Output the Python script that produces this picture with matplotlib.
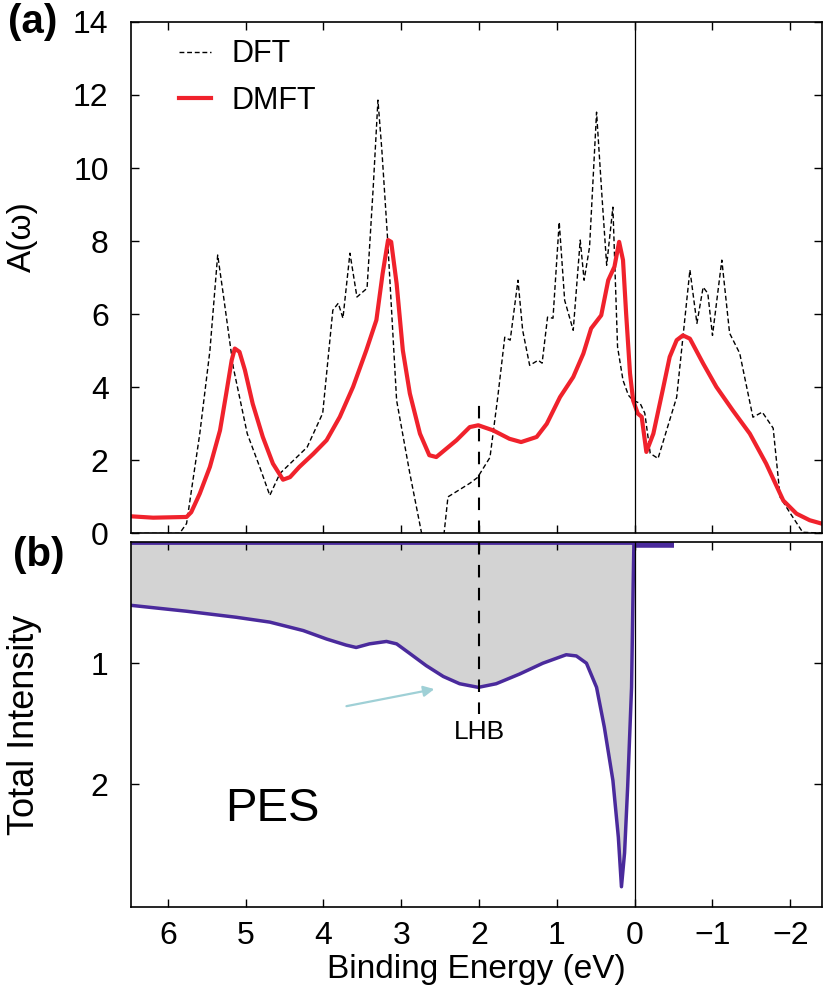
import numpy as np
import matplotlib.pyplot as plt

plt.rcParams['font.family'] = ['Liberation Sans', 'DejaVu Sans']

# DFT spectral function (black dashed), binding energy in eV
dft_x = [6.5, 5.85, 5.76, 5.59, 5.46, 5.36, 5.29, 5.16, 4.98, 4.82, 4.69, 4.56,
         4.21, 4.01, 3.88, 3.81, 3.75, 3.66, 3.57, 3.44, 3.36, 3.30, 3.25, 3.18,
         3.06, 2.89, 2.72, 2.46, 2.40, 2.12, 2.02, 1.86, 1.76, 1.67, 1.60, 1.50,
         1.44, 1.35, 1.24, 1.19, 1.12, 1.05, 0.97, 0.90, 0.79, 0.70, 0.65, 0.58,
         0.49, 0.42, 0.36, 0.28, 0.22, 0.15, 0.08, 0.02, -0.07, -0.13, -0.20,
         -0.30, -0.54, -0.71, -0.80, -0.88, -0.94, -1.00, -1.12, -1.22, -1.35,
         -1.52, -1.64, -1.78, -1.87, -2.00, -2.16, -2.5]
dft_y = [0.0, 0.0, 0.27, 2.73, 5.0, 7.62, 6.57, 4.55, 2.73, 1.82, 1.04, 1.64,
         2.36, 3.29, 6.11, 6.30, 5.89, 7.67, 6.47, 6.71, 9.5, 11.86, 10.5, 8.2,
         3.64, 1.64, -0.2, -0.2, 1.0, 1.37, 1.53, 2.08, 3.73, 5.37, 5.29, 6.93,
         5.56, 4.60, 4.74, 4.66, 5.92, 5.89, 8.52, 6.38, 5.56, 8.03, 6.93, 7.84,
         11.53, 9.21, 7.34, 8.93, 5.10, 4.19, 3.78, 3.64, 3.56, 3.29, 2.19,
         2.05, 3.73, 7.21, 5.75, 6.74, 6.57, 5.42, 7.48, 5.48, 4.93,
         3.18, 3.32, 2.88, 0.99, 0.55, 0.03, 0.0]

# DMFT spectral function (red)
dmft_x = [6.49, 6.19, 5.76, 5.70, 5.59, 5.46, 5.33, 5.25, 5.18, 5.14, 5.08, 5.01,
          4.91, 4.78, 4.65, 4.52, 4.43, 4.31, 4.13, 3.96, 3.79, 3.62, 3.45, 3.32,
          3.24, 3.17, 3.13, 3.06, 2.98, 2.89, 2.76, 2.64, 2.55, 2.42, 2.29, 2.12,
          2.01, 1.82, 1.61, 1.46, 1.26, 1.13, 0.96, 0.79, 0.66, 0.56, 0.43, 0.34,
          0.26, 0.20, 0.15, 0.11, 0.06, 0.02, -0.04, -0.09, -0.15, -0.24, -0.36,
          -0.45, -0.54, -0.62, -0.71, -0.88, -1.05, -1.26, -1.48, -1.69, -1.91,
          -2.08, -2.25, -2.40]
dmft_y = [0.47, 0.43, 0.45, 0.58, 1.09, 1.82, 2.82, 3.83, 4.74, 5.06, 4.97, 4.47,
          3.55, 2.64, 1.91, 1.47, 1.54, 1.82, 2.18, 2.55, 3.19, 4.01, 5.01, 5.84,
          7.11, 8.03, 7.98, 6.84, 5.01, 3.83, 2.73, 2.14, 2.09, 2.32, 2.55, 2.91,
          2.96, 2.82, 2.59, 2.50, 2.64, 3.00, 3.73, 4.28, 4.92, 5.61, 5.97, 6.93,
          7.30, 7.98, 7.48, 6.02, 4.38, 3.64, 3.28, 3.19, 2.23, 2.73, 3.92,
          4.83, 5.29, 5.42, 5.33, 4.65, 4.01, 3.37, 2.73, 1.91, 0.90,
          0.54, 0.36, 0.27]

# photoemission total intensity (b)
pes_x = [6.49, 5.76, 5.12, 4.69, 4.26, 3.96, 3.71, 3.58, 3.41, 3.19, 3.06, 2.89,
         2.68, 2.46, 2.25, 2.01, 1.78, 1.48, 1.18, 0.88, 0.75, 0.62, 0.49, 0.39,
         0.28, 0.21, 0.17, 0.13, 0.09, 0.04, 0.02, 0.01, 0.0]
pes_y = [0.52, 0.57, 0.62, 0.66, 0.73, 0.80, 0.85, 0.87, 0.84, 0.82, 0.84, 0.92,
         1.02, 1.11, 1.17, 1.20, 1.17, 1.09, 1.00, 0.93, 0.94, 1.00, 1.20, 1.53,
         1.97, 2.44, 2.85, 2.57, 2.02, 1.20, 0.37, 0.01, 0.0]

lhb_pos = 2.0
xmin, xmax = 6.476, -2.41
purple = '#4a2a9c'

fig = plt.figure(figsize=(8.23, 9.97), dpi=100)
ax1 = fig.add_axes([0.159, 0.465, 0.840, 0.513])
ax2 = fig.add_axes([0.159, 0.090, 0.840, 0.366])

# ---- (a) spectral functions ----
ax1.plot(dft_x, dft_y, color='black', lw=1.0, dashes=(3.5, 2), label='DFT')
ax1.plot(dmft_x, dmft_y, color='#f0222c', lw=3.0, label='DMFT',
         solid_joinstyle='round')
ax1.axvline(0, color='black', lw=0.9)
ax1.axvline(lhb_pos, ymin=0, ymax=3.7 / 14, color='black', lw=1.5, dashes=(6, 5))
ax1.set_xlim(xmin, xmax)
ax1.set_ylim(0, 14)
ax1.set_yticks(range(0, 15, 2))
ax1.set_xticks(range(-2, 7))
ax1.tick_params(labelbottom=False)
ax1.set_ylabel('A(ω)', fontsize=24)
ax1.yaxis.set_label_coords(-0.135, 0.58)
ax1.legend(loc='upper left', bbox_to_anchor=(0.03, 1.02), frameon=False,
           fontsize=22, handlelength=1.05, handletextpad=0.65, labelspacing=0.55)

# ---- (b) photoemission ----
ax2.fill_between(np.array(pes_x), 0, pes_y, color='#d3d3d3', lw=0)
ax2.plot(pes_x, pes_y, color=purple, lw=2.5, solid_joinstyle='round')
ax2.hlines(0.005, 0, xmin, color=purple, lw=2.0)
ax2.hlines(0.02, 0.0, -0.5, color=purple, lw=4.0)
ax2.axvline(0, color='black', lw=0.9)
ax2.vlines(lhb_pos, 0, 1.42, color='black', lw=1.5, linestyles=(0, (6, 5)))
ax2.text(lhb_pos, 1.57, 'LHB', ha='center', va='center', fontsize=19)
ax2.annotate('', xy=(2.54, 1.21), xytext=(3.74, 1.36),
             arrowprops=dict(arrowstyle='-|>', color='#9fd0d6', lw=1.6,
                             mutation_scale=16))
ax2.text(4.66, 2.21, 'PES', ha='center', va='center', fontsize=34)
ax2.set_xlim(xmin, xmax)
ax2.set_ylim(3.02, 0)
ax2.set_yticks([1, 2])
ax2.set_xticks(range(-2, 7))
ax2.set_xticklabels(['−2', '−1', '0', '1', '2', '3', '4', '5', '6'])
ax2.set_xlabel('Binding Energy (eV)', fontsize=24, labelpad=2)
ax2.set_ylabel('Total Intensity', fontsize=26)
ax2.yaxis.set_label_coords(-0.128, 0.5)

for ax in (ax1, ax2):
    ax.tick_params(direction='in', top=True, right=True, length=6, width=1,
                   labelsize=23)
    ax.tick_params(axis='y', pad=16)
    ax.tick_params(axis='x', pad=10)
    for s in ax.spines.values():
        s.set_linewidth(1.2)

fig.text(0.010, 0.978, '(a)', fontsize=29, fontweight='bold', va='center')
fig.text(0.016, 0.443, '(b)', fontsize=29, fontweight='bold', va='center')

fig.savefig('out.png', dpi=100)
